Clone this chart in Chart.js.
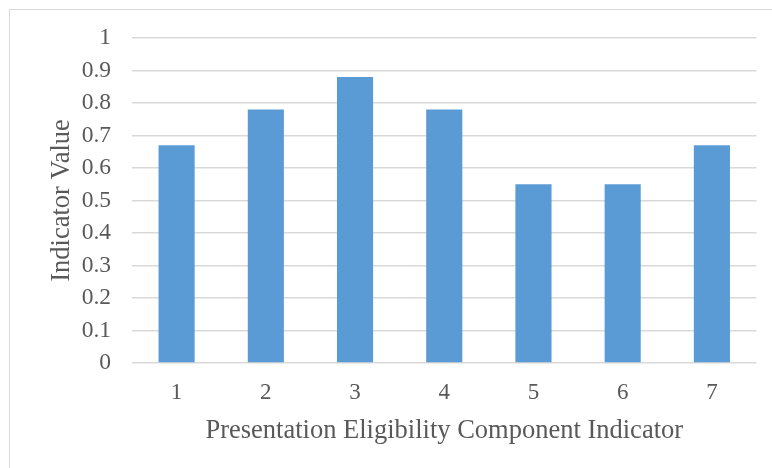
<!DOCTYPE html>
<html>
<head>
<meta charset="utf-8">
<script src="https://cdn.jsdelivr.net/npm/chart.js@4/dist/chart.umd.min.js"></script>
<style>
  html, body { margin: 0; padding: 0; background: #ffffff; }
  #wrap { position: relative; width: 772px; height: 468px; overflow: hidden; }
  #frame { position: absolute; left: 9px; top: 9px; width: 800px; height: 500px;
           border: 1.5px solid #d9d9d9; box-sizing: border-box; }
  #chart { position: absolute; left: 0; top: 0; }
</style>
</head>
<body>
<div id="wrap">
  <div id="frame"></div>
  <canvas id="chart" width="772" height="468"></canvas>
</div>
<script>
// Component indicators and their values
const categories = ['1', '2', '3', '4', '5', '6', '7'];
const indicatorValues = [0.67, 0.78, 0.88, 0.78, 0.55, 0.55, 0.67];
const yTicks = [0, 0.1, 0.2, 0.3, 0.4, 0.5, 0.6, 0.7, 0.8, 0.9, 1];

const serif = "'Liberation Serif', 'Times New Roman', serif";
const textColor = '#595959';

new Chart(document.getElementById('chart'), {
  type: 'bar',
  data: {
    labels: categories,
    datasets: [{
      data: indicatorValues,
      backgroundColor: '#5b9bd5',
      borderWidth: 0,
      categoryPercentage: 1.0,
      barPercentage: 0.405
    }]
  },
  options: {
    responsive: false,
    animation: false,
    events: [],
    layout: { padding: { top: 38, right: 15.5, bottom: 0, left: 0 } },
    plugins: { legend: { display: false }, tooltip: { enabled: false } },
    scales: {
      x: {
        grid: { display: false, drawTicks: false },
        border: { display: false },
        ticks: { color: textColor, font: { family: serif, size: 23 }, padding: 16 },
        title: {
          display: true,
          text: 'Presentation Eligibility Component Indicator',
          color: textColor,
          font: { family: serif, size: 26.5, lineHeight: 1.2 },
          padding: { top: 0, bottom: 21 }
        },
        afterFit: (s) => { s.height = 105; }
      },
      y: {
        min: 0,
        max: 1,
        afterBuildTicks: (s) => { s.ticks = yTicks.map(v => ({ value: v })); },
        grid: { color: '#d9d9d9', lineWidth: 1.5, drawTicks: false },
        border: { display: false },
        ticks: {
          color: textColor,
          font: { family: serif, size: 23.5 },
          padding: 21,
          callback: (v) => String(Math.round(v * 10) / 10)
        },
        title: {
          display: true,
          text: 'Indicator Value',
          color: textColor,
          font: { family: serif, size: 26.5, lineHeight: 1.2 },
          padding: { top: 46, bottom: 0 }
        },
        afterFit: (s) => { s.width = 132; }
      }
    }
  }
});
</script>
</body>
</html>
